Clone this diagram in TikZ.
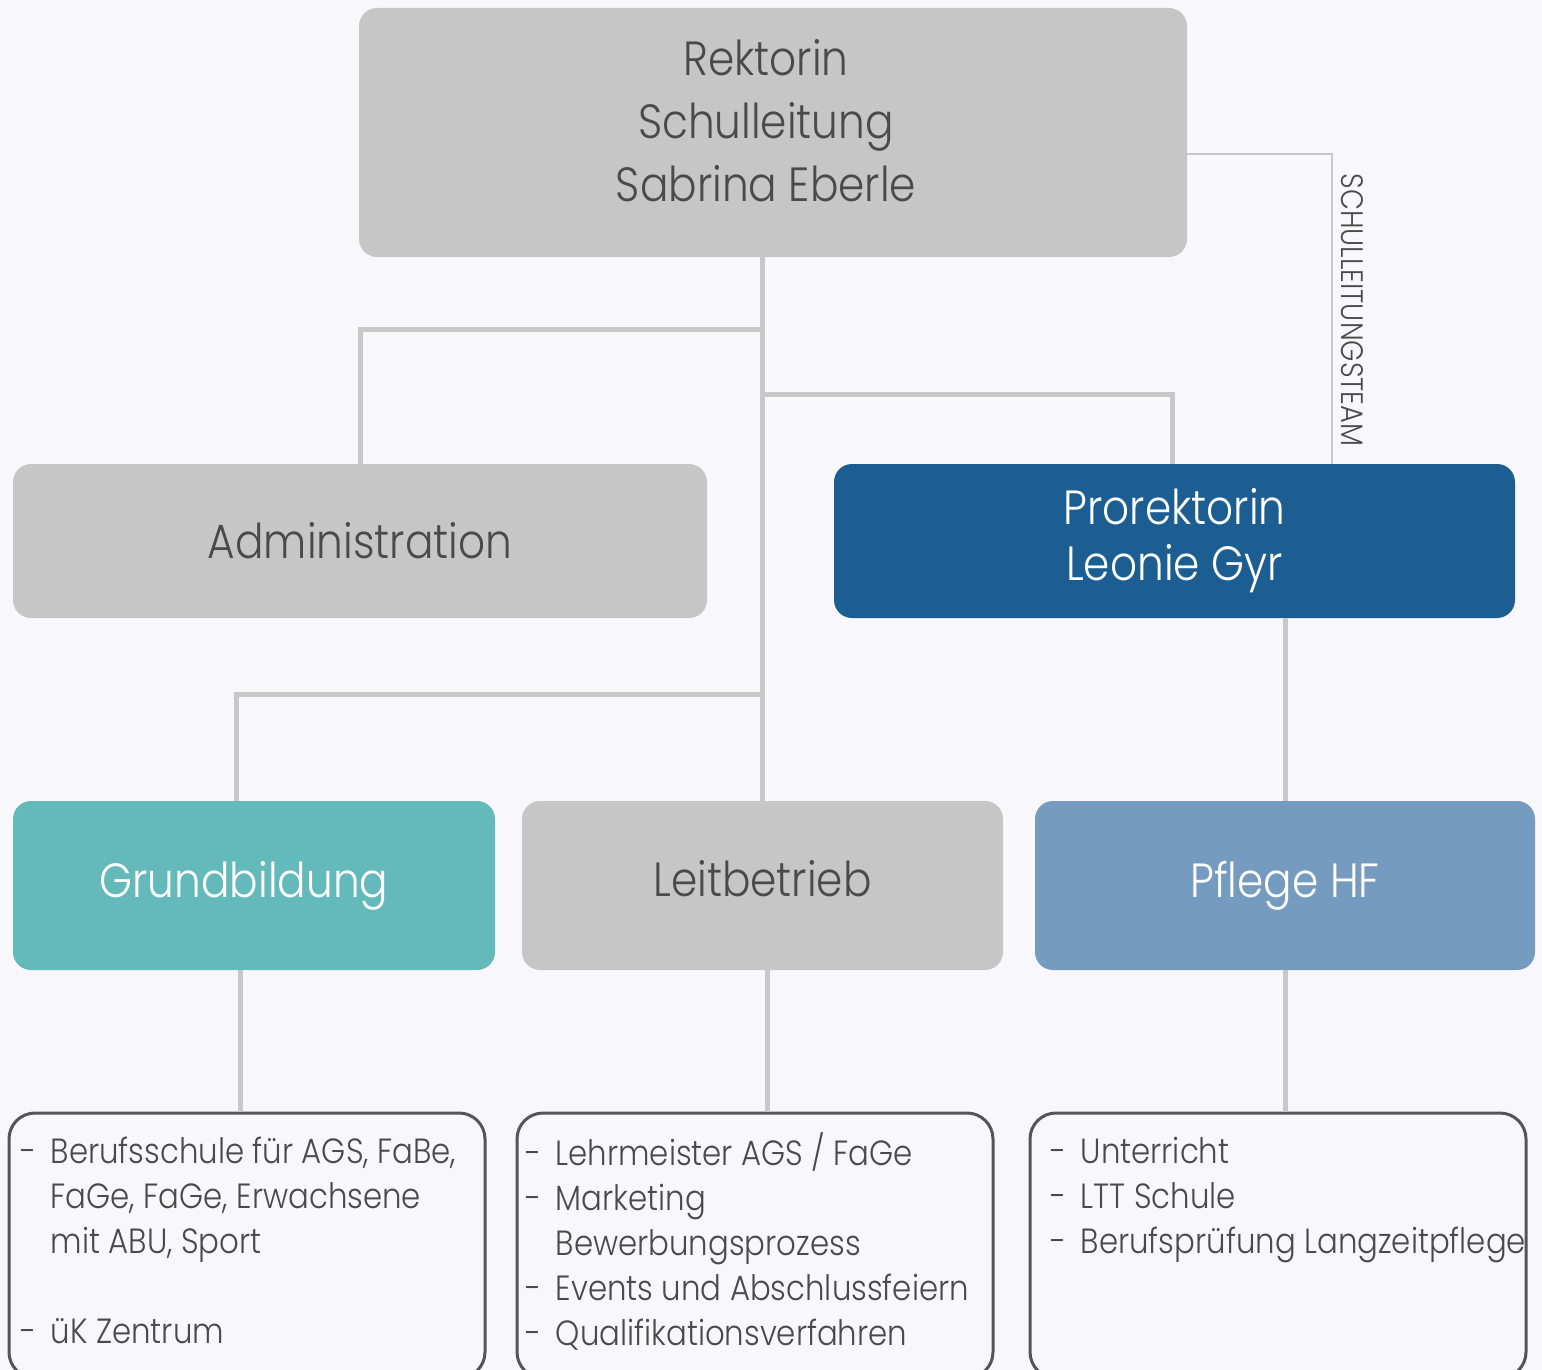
\documentclass[tikz,border=0pt]{standalone}
\usepackage{fontspec}
\setmainfont{Poppins}[UprightFont={* Light}, FakeStretch=0.88]
\definecolor{bgc}{HTML}{F8F8FC}
\definecolor{boxgray}{HTML}{C6C6C6}
\definecolor{linegray}{HTML}{C8C8C8}
\definecolor{txtdark}{HTML}{4A4A4A}
\definecolor{problue}{HTML}{1D5E92}
\definecolor{gbteal}{HTML}{64B9BB}
\definecolor{hfblue}{HTML}{769BC0}
\definecolor{listborder}{HTML}{555555}
\newcommand\lidash{\makebox[30pt][l]{-}}
\newcommand\liind{\hspace*{30pt}}

\begin{document}
\begin{tikzpicture}[x=1pt, y=-1pt,
  box/.style={rounded corners=18pt, inner sep=0pt, align=center,
    font=\fontsize{48}{63}\selectfont},
  listbox/.style={draw=listborder, line width=3pt, rounded corners=26pt,
    fill=bgc, minimum width=476pt, minimum height=265pt},
  listtext/.style={anchor=north west, inner sep=0pt, align=left,
    text=txtdark, font=\fontsize{35}{45}\selectfont},
  conn/.style={draw=linegray, line width=5pt}]
\fill[bgc] (0,0) rectangle (1542,1370);
\useasboundingbox (0,0) rectangle (1542,1370);

\node[box, fill=boxgray, text=txtdark, minimum width=828pt, minimum height=249pt,
  text depth=24pt]
  (rek) at (773,132.5) {\kern-14pt Rektorin\\\kern-14pt Schulleitung\\\kern-14pt Sabrina Eberle};
\node[box, fill=boxgray, text=txtdark, minimum width=694pt, minimum height=154pt]
  (adm) at (360,541) {Administration};
\node[box, fill=problue, text=white, minimum width=681pt, minimum height=154pt,
  font=\fontsize{48}{56}\selectfont]
  (pro) at (1174.5,541) {Prorektorin\\Leonie Gyr};
\node[box, fill=gbteal, text=white, minimum width=482pt, minimum height=169pt]
  (gb) at (254,885.5) {\kern-20pt Grundbildung};
\node[box, fill=boxgray, text=txtdark, minimum width=481pt, minimum height=169pt,
  text depth=14pt]
  (lb) at (762.5,885.5) {Leitbetrieb};
\node[box, fill=hfblue, text=white, minimum width=500pt, minimum height=169pt]
  (hf) at (1285,885.5) {Pflege HF};

\node[listbox] (gbl) at (247,1245.5) {};
\node[listbox] (lbl) at (755,1245.5) {};
\node[listbox, minimum width=496pt] (hfl) at (1278,1245.5) {};

\node[listtext] (gbt) at ([shift={(13pt,-20.5pt)}]gbl.north west)
  {\strut\lidash Berufsschule für AGS, FaBe,\\ \liind FaGe, FaGe, Erwachsene\\
   \liind mit ABU, Sport\\ \mbox{}\\ \lidash üK Zentrum};
\node[listtext] (lbt) at ([shift={(10pt,-20.5pt)}]lbl.north west)
  {\strut\lidash Lehrmeister AGS / FaGe\\ \lidash Marketing\\ \liind Bewerbungsprozess\\
   \lidash Events und Abschlussfeiern\\ \lidash Qualifikationsverfahren};
\node[listtext] (hft) at ([shift={(22pt,-20.5pt)}]hfl.north west)
  {\strut\lidash Unterricht\\ \lidash LTT Schule\\ \lidash Berufsprüfung Langzeitpflege};

% junctions on the trunk
\coordinate (j1) at (762.5,329);
\coordinate (j2) at (762.5,394);
\coordinate (j3) at (762.5,694);
\coordinate (tm) at (1332,464);

\draw[conn] (lb.north) -- (lb.north |- rek.south);
\draw[conn] (adm.north) |- (j1);
\draw[conn] ([xshift=-2.5pt]pro.north) |- (j2);
\draw[conn] ([xshift=-18pt]gb.north) |- (j3);
\draw[conn] (hf.north) -- (hf.north |- pro.south);
\draw[conn] ([xshift=-14pt]gb.south) -- ([xshift=-14pt]gb.south |- gbl.north);
\draw[conn] ([xshift=4.5pt]lb.south) -- ([xshift=4.5pt]lb.south |- lbl.north);
\draw[conn] (hf.south) -- (hf.south |- hfl.north);

\draw[linegray, line width=2.5pt] ([yshift=-21.5pt]rek.east) -| (tm);
\node[rotate=-90, text=txtdark, font=\fontsize{31}{31}\selectfont]
  (team) at (1352,310) {SCHULLEITUNGSTEAM};
\end{tikzpicture}
\end{document}
